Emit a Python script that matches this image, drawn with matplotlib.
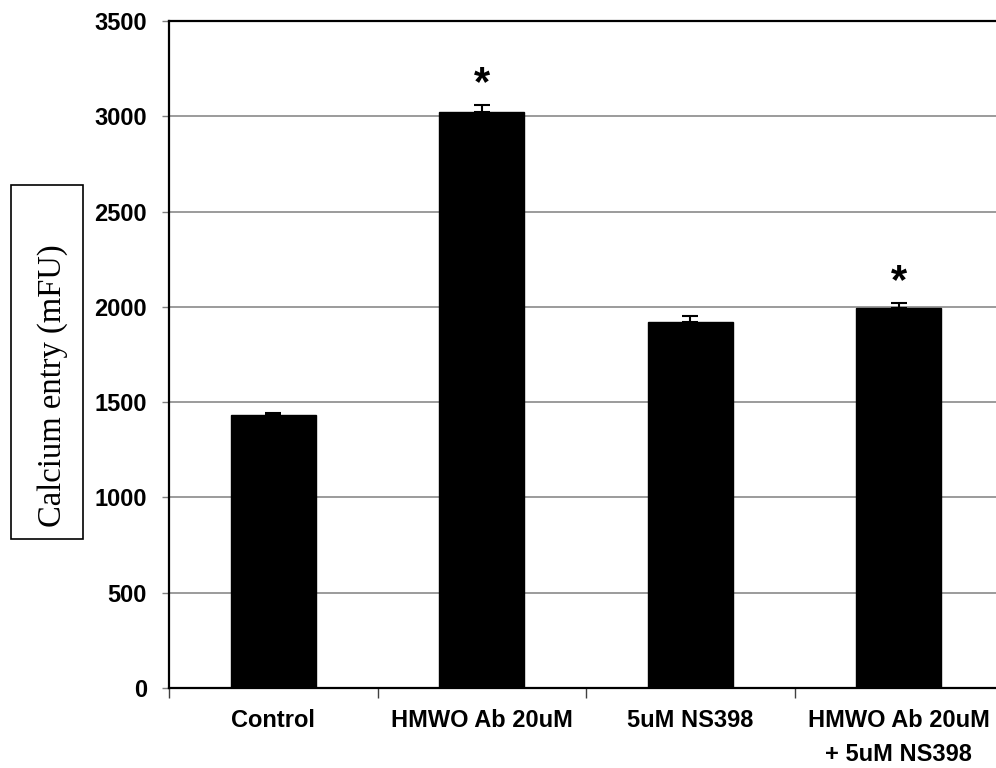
import matplotlib
matplotlib.use("Agg")
import matplotlib.pyplot as plt
from matplotlib.patches import Rectangle

categories = ["Control", "HMWO Ab 20uM", "5uM NS398", "HMWO Ab 20uM\n+ 5uM NS398"]
values = [1430, 3020, 1920, 1995]
errors = [15, 40, 30, 27]
significant = [False, True, False, True]
yticks = [0, 500, 1000, 1500, 2000, 2500, 3000, 3500]

W, H = 996, 768
fig = plt.figure(figsize=(W / 100, H / 100), dpi=100)
ax = fig.add_axes([169 / W, 80 / H, (1003 - 169) / W, (688 - 21) / H])

x = list(range(len(categories)))
ax.bar(x, values, width=0.41, color="black", edgecolor="black", zorder=3)
ax.errorbar(x, values, yerr=[[0] * len(errors), errors], fmt="none",
            ecolor="black", elinewidth=1.5, capsize=5.5, capthick=1.5, zorder=4)

for xi, v, e, s in zip(x, values, errors, significant):
    if s:
        ax.annotate("*", xy=(xi, v + e), xytext=(0, 7), textcoords="offset points",
                    ha="center", va="baseline", fontsize=30, fontweight="bold",
                    family="Liberation Sans")

ax.set_xlim(-0.5, len(categories) - 0.5)
ax.set_ylim(0, 3500)
ax.set_yticks(yticks)
ax.set_yticklabels([str(t) for t in yticks])
ax.yaxis.grid(True, color="#808080", linewidth=1.1, zorder=0)
ax.set_axisbelow(True)

# category separators as x ticks, labels centred under each bar
ax.set_xticks([i - 0.5 for i in range(len(categories) + 1)])
ax.set_xticklabels([])
ax.set_xticks(x, minor=True)
ax.set_xticklabels(categories, minor=True, fontsize=17, fontweight="bold",
                   family="Liberation Sans", linespacing=1.6)
ax.tick_params(axis="x", which="minor", length=0, pad=15)
ax.tick_params(axis="x", which="major", length=7, width=1.0, color="#404040",
               direction="out")
ax.tick_params(axis="y", length=5, width=1.0, color="#808080", pad=11)
for lab in ax.get_yticklabels():
    lab.set_fontsize(17)
    lab.set_fontweight("bold")
    lab.set_family("Liberation Sans")

for side in ["left", "bottom", "top"]:
    ax.spines[side].set_color("black")
    ax.spines[side].set_linewidth(1.6)
ax.spines["right"].set_visible(False)

# boxed y-axis title
fig.patches.append(Rectangle((11 / W, 1 - 539 / H), 72 / W, 354 / H,
                             transform=fig.transFigure, fill=False,
                             edgecolor="black", linewidth=1.2))
fig.text(53 / W, 1 - 386 / H, "Calcium entry (mFU)", rotation=90,
         ha="center", va="center", fontsize=23.5, family="Liberation Serif")

fig.savefig("out.png", dpi=100)
